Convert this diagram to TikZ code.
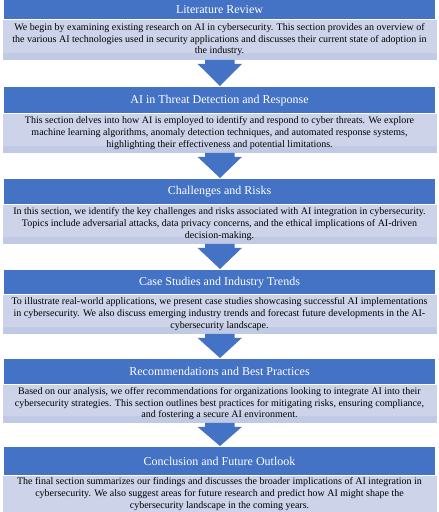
\documentclass[tikz,border=0pt]{standalone}
\usepackage{fontspec}
\setmainfont{Liberation Serif}
\usetikzlibrary{calc}
\definecolor{hdrblue}{HTML}{4472C4}
\definecolor{bodyfill}{HTML}{CDD4EA}
\definecolor{bandfill}{HTML}{C1CAE4}
\tikzset{
  hdr/.style={anchor=north, fill=hdrblue, text=white, minimum width=431pt,
    inner sep=0pt, font=\fontsize{12}{14}\selectfont},
  bodybox/.style={anchor=north, fill=bodyfill, minimum width=434pt, inner sep=0pt,
    align=center, font=\fontsize{10}{11.7}\selectfont,
    path picture={\fill[bandfill] (path picture bounding box.south west)
      rectangle ([yshift=6.5pt]path picture bounding box.south east);}},
  blockarrow/.style={fill=hdrblue}
}
% down arrow from the bottom of one body box to the next header
\newcommand{\flowarrow}[2]{%
  \fill[blockarrow] ($(#1.south)+(-14.5,0)$) -- ++(0,-4) -- ++(-7.5,0)
    -- ($(#2.north)+(0.5,1)$) -- ($(#1.south)+(22.5,-4)$) -- ++(-7.5,0)
    -- ++(0,4) -- cycle;}
\begin{document}
\begin{tikzpicture}[x=1pt,y=1pt]
\useasboundingbox (0,0) rectangle (439,-512);

\node[hdr, minimum height=19pt] (h1) at (219.5,0) {Literature Review};
\node[bodybox, minimum height=40pt] (b1) at (h1.south) {We begin by examining existing research on AI in cybersecurity. This section provides an overview of\\ the various AI technologies used in security applications and discusses their current state of adoption in\\ the industry.};

\node[hdr, minimum height=26pt] (h2) at (219.5,-87) {AI in Threat Detection and Response};
\node[bodybox, minimum height=39pt] (b2) at (h2.south) {This section delves into how AI is employed to identify and respond to cyber threats. We explore\\ machine learning algorithms, anomaly detection techniques, and automated response systems,\\ highlighting their effectiveness and potential limitations.};

\node[hdr, minimum height=25pt] (h3) at (219.5,-179) {Challenges and Risks};
\node[bodybox, minimum height=39pt] (b3) at (h3.south) {In this section, we identify the key challenges and risks associated with AI integration in cybersecurity.\\ Topics include adversarial attacks, data privacy concerns, and the ethical implications of AI-driven\\ decision-making.};

\node[hdr, minimum height=24pt] (h4) at (219.5,-270) {Case Studies and Industry Trends};
\node[bodybox, minimum height=39pt] (b4) at (h4.south) {To illustrate real-world applications, we present case studies showcasing successful AI implementations\\ in cybersecurity. We also discuss emerging industry trends and forecast future developments in the AI-\\ cybersecurity landscape.};

\node[hdr, minimum height=25pt] (h5) at (219.5,-359) {Recommendations and Best Practices};
\node[bodybox, minimum height=38pt] (b5) at (h5.south) {Based on our analysis, we offer recommendations for organizations looking to integrate AI into their\\ cybersecurity strategies. This section outlines best practices for mitigating risks, ensuring compliance,\\ and fostering a secure AI environment.};

\node[hdr, minimum height=28pt] (h6) at (219.5,-447) {Conclusion and Future Outlook};
\node[bodybox, minimum height=37pt, path picture={}] (b6) at (h6.south) {The final section summarizes our findings and discusses the broader implications of AI integration in\\ cybersecurity. We also suggest areas for future research and predict how AI might shape the\\ cybersecurity landscape in the coming years.};

\flowarrow{b1}{h2}
\flowarrow{b2}{h3}
\flowarrow{b3}{h4}
\flowarrow{b4}{h5}
\flowarrow{b5}{h6}
\end{tikzpicture}
\end{document}
